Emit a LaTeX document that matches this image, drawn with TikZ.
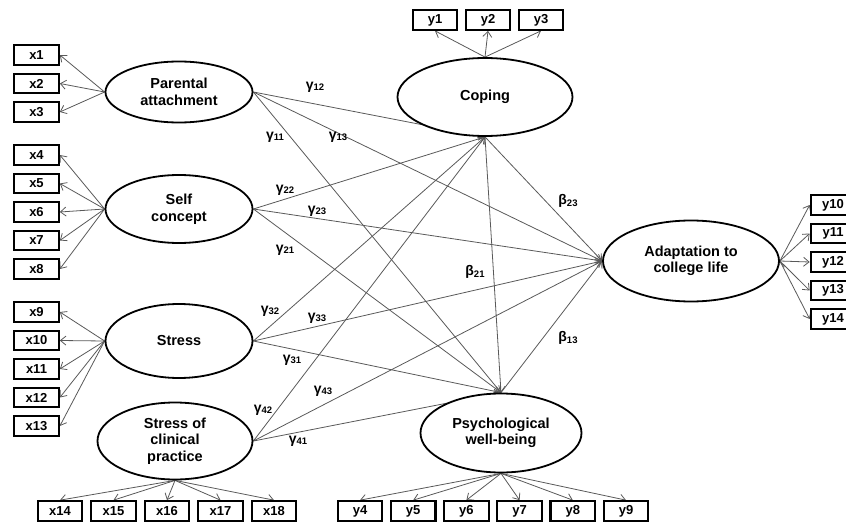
\documentclass[tikz,border=0pt]{standalone}
\usepackage{fontspec}
\setmainfont{Liberation Sans}
\usepackage{tikz}
\usetikzlibrary{shapes.geometric,positioning,arrows.meta,backgrounds}

\newcommand{\pathcoef}[2]{#1\raisebox{-1.5pt}{\fontsize{9.5}{10}\selectfont#2}}

\tikzset{
  latent/.style={ellipse, draw, line width=1.8pt, fill=white, inner sep=0pt,
                 align=center, font=\fontsize{14.5}{16.5}\selectfont\bfseries},
  indic/.style={rectangle, draw, line width=2.2pt, fill=white, minimum width=44.5pt,
                minimum height=19.5pt, inner sep=0pt, font=\fontsize{13}{15}\selectfont\bfseries},
  coef/.style={inner sep=0pt, font=\fontsize{14}{16}\selectfont\bfseries},
  link/.style={->, >={Straight Barb[length=5.5pt,width=9pt]}, draw=black!65, line width=0.8pt}
}

\begin{document}
\begin{tikzpicture}[x=1pt, y=-1pt, node distance=28.5pt, on grid]
        \useasboundingbox (0,0) rectangle (846,527);
        \clip (0,0) rectangle (846,527);
        % latent variables
        \node[latent, minimum width=147pt, minimum height=61pt] (par) at (179,92)  {Parental\\attachment};
        \node[latent, minimum width=147pt, minimum height=68pt] (slf) at (179,209) {Self\\concept};
        \node[latent, minimum width=147pt, minimum height=74pt] (str) at (179,341) {Stress};
        \node[latent, minimum width=155pt, minimum height=77pt] (scp) at (175,441) {Stress of\\clinical\\practice};
        \node[latent, minimum width=175pt, minimum height=78pt] (cop) at (485,97)  {Coping};
        \node[latent, minimum width=161pt, minimum height=79pt] (pwb) at (501,433) {Psychological\\well-being};
        \node[latent, minimum width=176pt, minimum height=81pt] (ada) at (691,261) {Adaptation to\\college life};
        % indicators of the exogenous variables
        \node[indic] (x1)  at (36.5,55)       {x1};
        \node[indic] (x2)  [below=of x1]      {x2};
        \node[indic] (x3)  [below=of x2]      {x3};
        \node[indic] (x4)  at (36.5,155)      {x4};
        \node[indic] (x5)  [below=of x4]      {x5};
        \node[indic] (x6)  [below=of x5]      {x6};
        \node[indic] (x7)  [below=of x6]      {x7};
        \node[indic] (x8)  [below=of x7]      {x8};
        \node[indic] (x9)  at (36.5,312)      {x9};
        \node[indic] (x10) [below=of x9]      {x10};
        \node[indic] (x11) [below=of x10]     {x11};
        \node[indic] (x12) [below=of x11]     {x12};
        \node[indic] (x13) [below=of x12]     {x13};
        \node[indic] (x14) at (60,511)        {x14};
        \node[indic] (x15) [right=53.5pt of x14] {x15};
        \node[indic] (x16) [right=53.5pt of x15] {x16};
        \node[indic] (x17) [right=53.5pt of x16] {x17};
        \node[indic] (x18) [right=53.5pt of x17] {x18};
        % indicators of the endogenous variables
        \node[indic] (y1)  at (435,20)        {y1};
        \node[indic] (y2)  [right=53pt of y1] {y2};
        \node[indic] (y3)  [right=53pt of y2] {y3};
        \node[indic] (y4)  at (360,511)       {y4};
        \node[indic] (y5)  [right=53.2pt of y4] {y5};
        \node[indic] (y6)  [right=53.2pt of y5] {y6};
        \node[indic] (y7)  [right=53.2pt of y6] {y7};
        \node[indic] (y8)  [right=53.2pt of y7] {y8};
        \node[indic] (y9)  [right=53.2pt of y8] {y9};
        \node[indic] (y10) at (833,205)       {y10};
        \node[indic] (y11) [below=of y10]     {y11};
        \node[indic] (y12) [below=of y11]     {y12};
        \node[indic] (y13) [below=of y12]     {y13};
        \node[indic] (y14) [below=of y13]     {y14};
        % path coefficients
        \node[coef] (g12) at (315,87)  {\pathcoef{γ}{12}};
        \node[coef] (g11) at (275,137) {\pathcoef{γ}{11}};
        \node[coef] (g13) at (338,137) {\pathcoef{γ}{13}};
        \node[coef] (g22) at (285,190) {\pathcoef{γ}{22}};
        \node[coef] (g23) at (317,211) {\pathcoef{γ}{23}};
        \node[coef] (g21) at (285,250) {\pathcoef{γ}{21}};
        \node[coef] (b23) at (568,201) {\pathcoef{β}{23}};
        \node[coef] (b21) at (475,272) {\pathcoef{β}{21}};
        \node[coef] (g32) at (270,311) {\pathcoef{γ}{32}};
        \node[coef] (g33) at (317,318) {\pathcoef{γ}{33}};
        \node[coef] (b13) at (568,338) {\pathcoef{β}{13}};
        \node[coef] (g31) at (292,360) {\pathcoef{γ}{31}};
        \node[coef] (g43) at (323,391) {\pathcoef{γ}{43}};
        \node[coef] (g42) at (263,410) {\pathcoef{γ}{42}};
        \node[coef] (g41) at (298,441) {\pathcoef{γ}{41}};
        \begin{scope}[on background layer]
        \path[link]
        (par.west) edge (x1.east)  (par.west) edge (x2.east)  (par.west) edge (x3.east)
        (slf.west) edge (x4.east)  (slf.west) edge (x5.east)  (slf.west) edge (x6.east)
        (slf.west) edge (x7.east)  (slf.west) edge (x8.east)
        (str.west) edge (x9.east)  (str.west) edge (x10.east) (str.west) edge (x11.east)
        (str.west) edge (x12.east) (str.west) edge (x13.east)
        (scp.south) edge (x14.north) (scp.south) edge (x15.north) (scp.south) edge (x16.north)
        (scp.south) edge (x17.north) (scp.south) edge (x18.north)
        (cop.north) edge (y1.south) (cop.north) edge (y2.south) (cop.north) edge (y3.south)
        (pwb.south) edge (y4.north) (pwb.south) edge (y5.north) (pwb.south) edge (y6.north)
        (pwb.south) edge (y7.north) (pwb.south) edge (y8.north) (pwb.south) edge (y9.north)
        (ada.east) edge (y10.west) (ada.east) edge (y11.west) (ada.east) edge (y12.west)
        (ada.east) edge (y13.west) (ada.east) edge (y14.west);
        \path[link]
        (par.east) edge (cop.south) (par.east) edge (pwb.north) (par.east) edge (ada.west)
        (slf.east) edge (cop.south) (slf.east) edge (pwb.north) (slf.east) edge (ada.west)
        (str.east) edge (cop.south) (str.east) edge (pwb.north) (str.east) edge (ada.west)
        (scp.east) edge (cop.south) (scp.east) edge (pwb.north) (scp.east) edge (ada.west)
        (cop.south) edge (ada.west) (cop.south) edge (pwb.north)
        (pwb.north) edge (ada.west);
        \end{scope}
\end{tikzpicture}
\end{document}
